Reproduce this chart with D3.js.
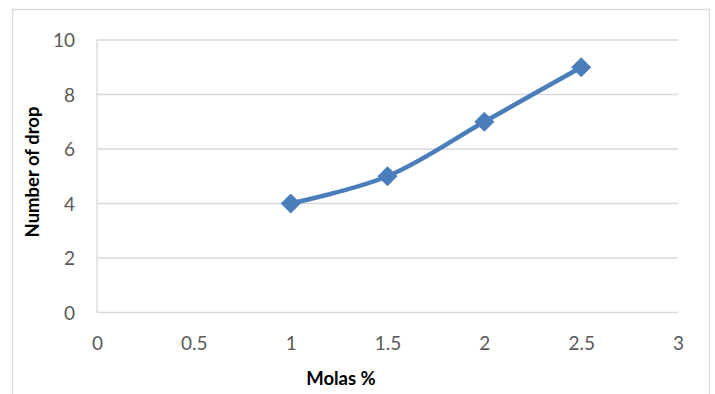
<!DOCTYPE html>
<html><head><meta charset="utf-8">
<script src="https://cdn.jsdelivr.net/npm/d3@7"></script>
<style>body{margin:0;background:#fff;} svg{display:block;}</style>
</head><body>
<script>
const molas = [1, 1.5, 2, 2.5];
const drops = [4, 5, 7, 9];
const xTicks = [0, 0.5, 1, 1.5, 2, 2.5, 3];
const yTicks = [0, 2, 4, 6, 8, 10];

const W = 715, H = 394;
const svg = d3.select("body").append("svg").attr("width", W).attr("height", H);
svg.append("rect").attr("x", 12.5).attr("y", 9.5).attr("width", 697).attr("height", 400)
  .attr("fill", "#fff").attr("stroke", "#d9d9d9").attr("stroke-width", 1.3);

const x = d3.scaleLinear().domain([0, 3]).range([97, 678]);
const y = d3.scaleLinear().domain([0, 10]).range([312.5, 40]);
const font = "Lato, 'Open Sans', sans-serif";

// gridlines
svg.append("g").selectAll("line").data(yTicks).join("line")
  .attr("x1", x(0)).attr("x2", x(3)).attr("y1", d => y(d)).attr("y2", d => y(d))
  .attr("stroke", "#d9d9d9").attr("stroke-width", 1.3);
svg.append("line").attr("x1", x(0)).attr("x2", x(0)).attr("y1", y(0)).attr("y2", y(10))
  .attr("stroke", "#d9d9d9").attr("stroke-width", 1.3);

// y axis labels
const yAxis = d3.axisLeft(y).tickValues(yTicks).tickSize(0).tickPadding(0).tickFormat(d3.format("d"));
const ya = svg.append("g").attr("transform", "translate(75,0)").call(yAxis);
ya.select(".domain").remove();
ya.selectAll("text").attr("font-family", font).attr("font-size", 19).attr("fill", "#595959").attr("dy", "0.35em");

const xAxis = d3.axisBottom(x).tickValues(xTicks).tickSize(0).tickPadding(0).tickFormat(d => String(d));
const xa = svg.append("g").attr("transform", "translate(0,336)").call(xAxis);
xa.select(".domain").remove();
xa.selectAll("text").attr("font-family", font).attr("font-size", 19).attr("fill", "#595959").attr("dy", "0.71em");

// titles
svg.append("text").attr("x", 341).attr("y", 385).attr("text-anchor", "middle")
  .attr("font-family", font).attr("font-weight", "bold").attr("font-size", 18.5).attr("fill", "#000").text("Molas %");
svg.append("text").attr("transform", "translate(39,172) rotate(-90)").attr("text-anchor", "middle")
  .attr("font-family", font).attr("font-weight", "bold").attr("font-size", 18.5).attr("fill", "#000").text("Number of drop");

const pts = molas.map((m, i) => [m, drops[i]]);
const line = d3.line().x(d => x(d[0])).y(d => y(d[1])).curve(d3.curveCatmullRom.alpha(0.5));
svg.append("path").attr("d", line(pts)).attr("fill", "none").attr("stroke", "#4a7ebb")
  .attr("stroke-width", 4.5).attr("stroke-linecap", "round");

svg.append("g").selectAll("path").data(pts).join("path")
  .attr("d", d => { const cx = x(d[0]), cy = y(d[1]), r = 9.5; return `M${cx},${cy-r}L${cx+r},${cy}L${cx},${cy+r}L${cx-r},${cy}Z`; })
  .attr("fill", "#4a7ebb").attr("stroke", "#4a7ebb").attr("stroke-width", 1);
</script>
</body></html>
